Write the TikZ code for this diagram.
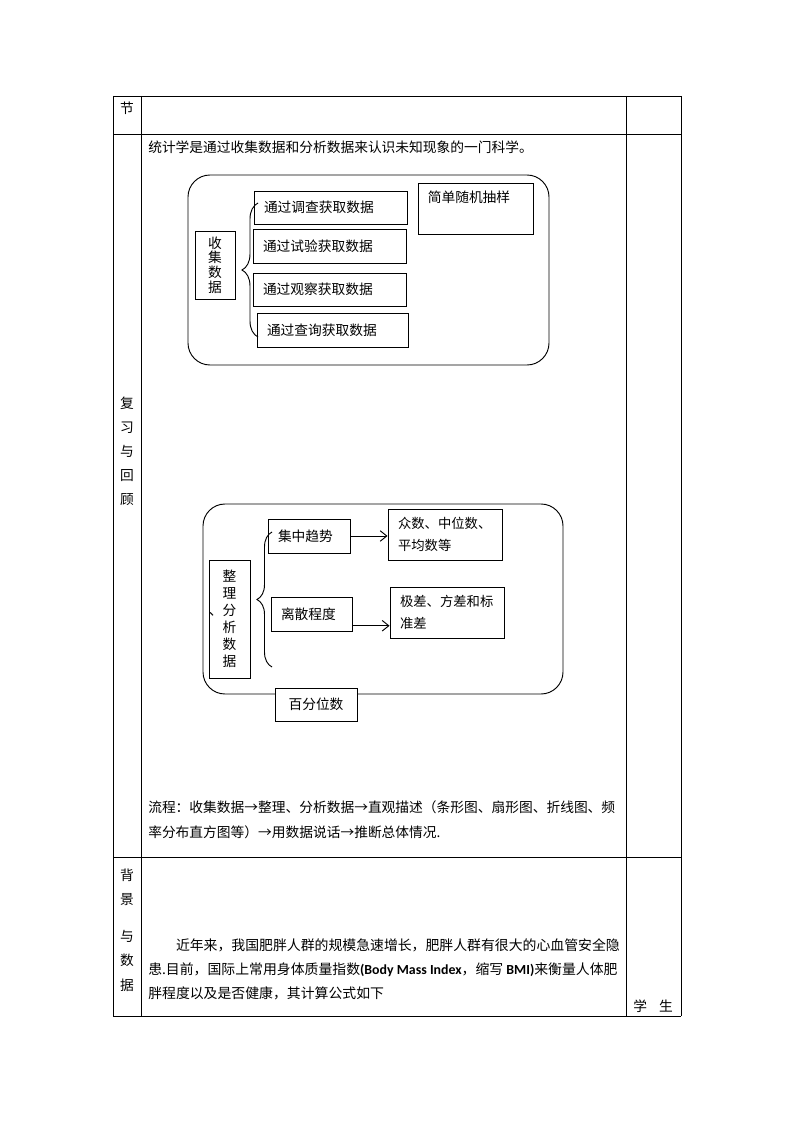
\documentclass[tikz,border=0pt]{standalone}
\usepackage{fontspec}
\newfontfamily\cjk{Noto Sans CJK SC}
\newfontfamily\carl{Carlito}
\usetikzlibrary{arrows.meta,decorations.pathreplacing}

\tikzset{
  rule/.style={line width=0.7pt},
  cell/.style={font=\cjk\fontsize{10.3}{13}\selectfont, inner sep=0pt},
  box/.style={draw, line width=0.7pt, font=\cjk\fontsize{10.3}{13}\selectfont, inner sep=0pt},
  leftbox/.style={box, text width=#1, inner xsep=7.5pt, align=left},
  frame/.style={draw, line width=0.7pt, rounded corners=16.5pt, inner sep=0pt},
  flow/.style={-{Straight Barb[length=5pt,width=8pt]}, line width=0.7pt},
  curly/.style={decorate, decoration={brace, amplitude=#1}, line width=0.7pt},
}

\begin{document}
\begin{tikzpicture}[x=0.75pt, y=-0.75pt]
    \useasboundingbox (0,0) rectangle (794,1123);
    % table rules:
    \foreach \y in {96,134,857,1016}
        \draw [rule] (113,\y) -- (681,\y);
    \foreach \x in {113,141,626,681}
        \draw [rule] (\x,96) -- (\x,1016);
    % left column:
    \node [cell] (sec) at (127,108) {节};
    \node [cell, align=center, font=\cjk\fontsize{10.3}{18}\selectfont] (review) at (127,451) {复\\习\\与\\回\\顾};
    \node [cell, align=center, font=\cjk\fontsize{10.3}{18.4}\selectfont] (background) at (127,930) {背\\景\\[9pt]与\\数\\据};
    % review text:
    \node [cell, anchor=west] (intro) at (148,147) {统计学是通过收集数据和分析数据来认识未知现象的一门科学。};
    % collecting data:
    \node [frame, minimum width=270.75pt, minimum height=142.5pt] (collect) at (368.5,270) {};
    \node [box, minimum width=30pt, minimum height=51pt, align=center, font=\cjk\fontsize{10.3}{10.9}\selectfont] (collectlbl) at (215,265) {收\\集\\数\\据};
    \node [leftbox=99.75pt, minimum height=24.75pt] (survey) at (330.5,207.5) {通过调查获取数据};
    \node [leftbox=99.75pt, minimum height=25.5pt] (trial) at (329.5,246) {通过试验获取数据};
    \node [leftbox=99.75pt, minimum height=24.75pt] (observe) at (329.5,289.5) {通过观察获取数据};
    \node [leftbox=98.25pt, minimum height=25.5pt] (query) at (332.5,330) {通过查询获取数据};
    \node [box, minimum width=86.25pt, minimum height=38.25pt,
        label={[anchor=north west, inner xsep=7.5pt, inner ysep=6pt, font=\cjk\fontsize{10.3}{13}\selectfont]north west:简单随机抽样}] (sampling) at (475.5,208.5) {};
    \coordinate (braceA top) at (258,203);
    \coordinate (braceA bot) at (258,337);
    \draw [curly=12pt] (braceA bot) -- (braceA top);
    % sorting and analysing data:
    \node [frame, minimum width=270pt, minimum height=142.5pt] (analyse) at (383,599) {};
    \node [box, minimum width=30.75pt, minimum height=88.5pt, align=center, font=\cjk\fontsize{10.3}{12.75}\selectfont] (analyselbl) at (229.5,619) {整\\理\\\llap{、}分\\析\\数\\据};
    \node [leftbox=46.5pt, minimum height=25.5pt] (central) at (309,536) {集中趋势};
    \node [leftbox=45.75pt, minimum height=25.5pt] (spread) at (311.5,614) {离散程度};
    \node [leftbox=70.5pt, minimum height=38.25pt, font=\cjk\fontsize{10}{16.5}\selectfont] (averages) at (445,534.5) {众数、中位数、\\平均数等};
    \node [leftbox=70.5pt, minimum height=38.25pt, font=\cjk\fontsize{10}{16.5}\selectfont] (ranges) at (447,612.5) {极差、方差和标\\准差};
    \node [box, fill=white, minimum width=61.5pt, minimum height=24.75pt] (percentile) at (316,704.5) {百分位数};
    \coordinate (braceB top) at (272,532);
    \coordinate (braceB bot) at (272,667);
    \draw [curly=11.25pt] (braceB bot) -- (braceB top);
    \draw [flow] (central.east) -- (central.east -| averages.west);
    \draw [flow] (spread.-16) -- (spread.-16 -| ranges.west);
    % process:
    \node [cell, anchor=west, align=left, font=\cjk\fontsize{10.3}{18.75}\selectfont] (process) at (148,819.5) {流程：收集数据→整理、分析数据→直观描述（条形图、扇形图、折线图、频\\率分布直方图等）→用数据说话→推断总体情况.};
    % background:
    \node [cell, anchor=west, align=left, font=\cjk\fontsize{10.4}{18}\selectfont] (bmi) at (148,969) {\hspace*{2em}近年来，我国肥胖人群的规模急速增长，肥胖人群有很大的心血管安全隐\\患.目前，国际上常用身体质量指数{\carl\bfseries (Body Mass Index}，缩写 {\carl\bfseries BMI)}来衡量人体肥\\胖程度以及是否健康，其计算公式如下};
    \node [cell] (student) at (653,1006) {学\hspace{9pt}生};
\end{tikzpicture}
\end{document}
